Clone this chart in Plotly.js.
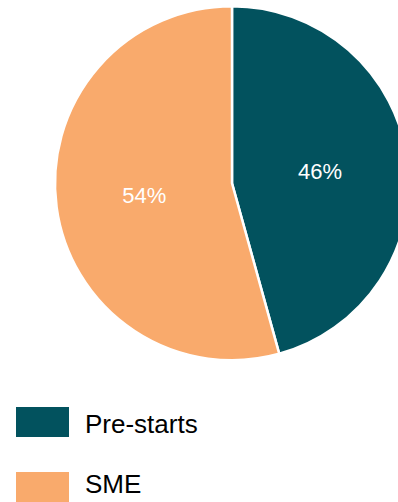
<!DOCTYPE html>
<html>
<head>
<meta charset="utf-8">
<script src="https://cdn.plot.ly/plotly-3.0.1.min.js"></script>
<style>
html, body { margin: 0; padding: 0; overflow: hidden; background: #fff; }
#chart { width: 420px; height: 502px; }
</style>
</head>
<body>
<div id="chart"></div>
<script>
const categories = ["Pre-starts", "SME"];
const shares = [45.7, 54.3];
const sliceColors = ["#02525E", "#F9AA6C"];

const W = 420, H = 502;
const px = x => x / W;
const py = y => (H - y) / H;

const trace = {
  type: "pie",
  labels: categories,
  values: shares,
  sort: false,
  direction: "clockwise",
  rotation: 0,
  marker: { colors: sliceColors, line: { color: "#ffffff", width: 2.5 } },
  textinfo: "percent",
  texttemplate: "%{percent:.0%}",
  textposition: "inside",
  insidetextorientation: "horizontal",
  textfont: { family: "Liberation Sans, Arial, sans-serif", size: 22, color: "#ffffff" },
  hoverinfo: "none",
  showlegend: false,
  domain: { x: [px(55), px(409)], y: [py(360.5), py(6)] }
};

const legendRows = [422, 487];
const textRows = [424, 484];
const shapes = [];
const annotations = [];
categories.forEach((c, i) => {
  const yc = legendRows[i];
  shapes.push({
    type: "rect", xref: "paper", yref: "paper",
    x0: px(16), x1: px(69), y0: py(yc + 15), y1: py(yc - 15),
    fillcolor: sliceColors[i], line: { width: 0 }
  });
  annotations.push({
    xref: "paper", yref: "paper", x: px(84), y: py(textRows[i]),
    xanchor: "left", yanchor: "middle", showarrow: false,
    borderpad: 0,
    text: c,
    font: { family: "Liberation Sans, Arial, sans-serif", size: 26, color: "#000000" }
  });
});

const layout = {
  width: W, height: H,
  margin: { l: 0, r: 0, t: 0, b: 0 },
  paper_bgcolor: "#ffffff",
  showlegend: false,
  shapes: shapes,
  annotations: annotations
};

Plotly.newPlot("chart", [trace], layout, { displayModeBar: false, staticPlot: true });
</script>
</body>
</html>
